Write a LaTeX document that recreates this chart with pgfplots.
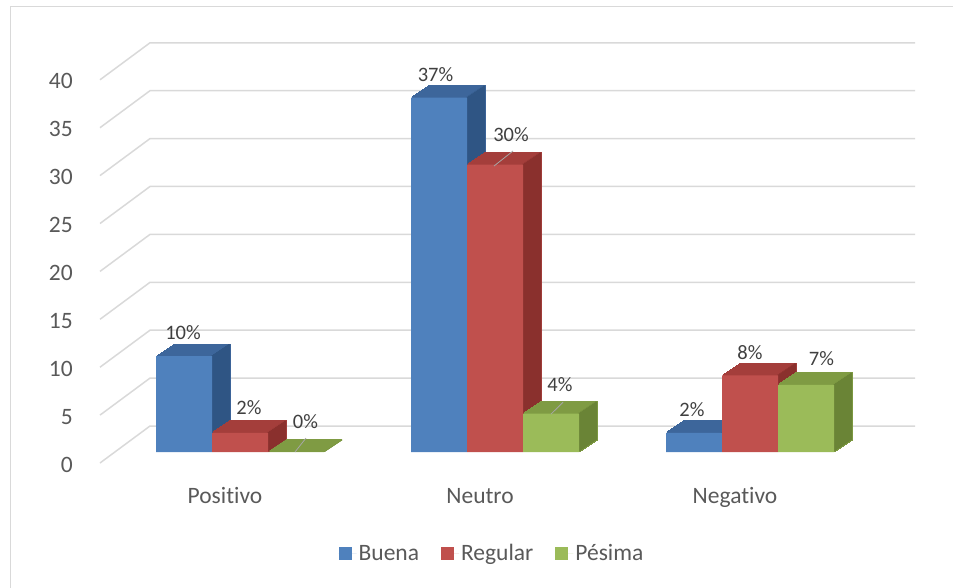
\documentclass[border=0pt]{standalone}
\usepackage{fontspec}
\setmainfont{Carlito}[Ligatures=NoCommon]
\usepackage{pgfplots}
\pgfplotsset{compat=1.18}
\usepackage{pgfplotstable}

\definecolor{bfront}{HTML}{4F81BD}
\definecolor{btop}{HTML}{3D669B}
\definecolor{bside}{HTML}{2F5584}
\definecolor{rfront}{HTML}{C0504D}
\definecolor{rtop}{HTML}{A43E3B}
\definecolor{rside}{HTML}{8A302D}
\definecolor{gfront}{HTML}{9BBB59}
\definecolor{gtop}{HTML}{7F9B43}
\definecolor{gside}{HTML}{6A8436}
\definecolor{txt}{HTML}{595959}
\definecolor{lbltxt}{HTML}{404040}
\definecolor{gridc}{HTML}{D9D9D9}

% dx, dy: label offsets in px from the group centre / bar top
\pgfplotstableread{
x y dx dy
0 10 -57 23.5
1 37 -59.5 23
2 2 -58 23
}\buena
\pgfplotstableread{
x y dx dy
0 2 9 25.5
1 30 16 30.5
2 8 0 23
}\regular
\pgfplotstableread{
x y dx dy
0 0 65.5 30.5
1 4 65 29
2 7 71.5 26.5
}\pesima

\pgfplotsset{
  lbl/.style={
    visualization depends on={\thisrow{dx} \as \ldx},
    visualization depends on={\thisrow{dy} \as \ldy},
    nodes near coords={\pgfmathprintnumber{\pgfplotspointmeta}\%},
    every node near coord/.append style={anchor=center, xshift=\ldx pt, yshift=\ldy pt,
      font=\fontsize{20.5}{24}\selectfont, text=lbltxt, inner sep=0pt},
  },
}

\begin{document}
\begin{tikzpicture}
\useasboundingbox (0,0) rectangle (953pt,587pt);
\draw[gridc, line width=1pt] (10pt,-10pt) -- (10pt,580pt) -- (970pt,580pt);
\begin{axis}[
  at={(100pt,124pt)}, anchor=south west,
  scale only axis, width=815pt, height=420pt,
  xmin=-0.549, xmax=2.647, ymin=-1.148, ymax=42.693,
  clip=false,
  axis line style={draw=none},
  major tick length=0pt,
  xtick={0,1,2},
  xticklabels={Positivo,Neutro,Negativo},
  ytick={0,5,...,40},
  /pgf/number format/assume math mode=true,
  tick label style={text=txt, font=\fontsize{23.5}{28}\selectfont},
  xticklabel style={anchor=base, inner sep=0pt, yshift=-40pt, xshift=-15pt},
  yticklabel style={anchor=base east, inner sep=0pt, xshift=-27pt, yshift=-20pt},
  legend columns=3,
  legend style={draw=none, fill=none, at={(0.481,-0.215)}, anchor=center,
    font=\fontsize{23.5}{28}\selectfont, text=txt,
    /tikz/every even column/.append style={column sep=20pt}},
]
% grid lines (front floor diagonal + back wall)
\pgfplotsinvokeforeach{0,5,...,40}{
  \draw[gridc, line width=1.5pt] ([yshift=-11pt]axis cs:-0.549,#1) -- ([yshift=26pt]axis cs:-0.3529,#1) -- ([yshift=26pt]axis cs:2.647,#1);
}
% ---------- Buena ----------
\pgfplotsinvokeforeach{1,...,12}{
  \addplot[forget plot, ybar, bar width=0.2196, bar shift=-0.2196, fill=btop, draw=btop, line width=1.2pt,
    xshift=#1*1.5pt, yshift=#1*1pt] table[x=x,y=y] {\buena};
}
\pgfplotsinvokeforeach{1,...,12}{
  \addplot[forget plot, ybar, bar width=0.00784, bar shift=-0.1137, fill=bside, draw=none,
    xshift=#1*1.5pt, yshift=#1*1pt] table[x=x,y=y] {\buena};
}
\addplot[ybar, bar width=0.2196, bar shift=-0.2196, fill=bfront, draw=none, lbl,
  legend image code/.code={\fill[bfront] (0pt,-6.5pt) rectangle (13pt,6.5pt); \path (0pt,0pt) -- (18pt,0pt);}] table[x=x,y=y] {\buena};
\addlegendentry{Buena}
% ---------- Regular ----------
\pgfplotsinvokeforeach{1,...,12}{
  \addplot[forget plot, ybar, bar width=0.2196, bar shift=0, fill=rtop, draw=rtop, line width=1.2pt,
    xshift=#1*1.5pt, yshift=#1*1pt] table[x=x,y=y] {\regular};
}
\pgfplotsinvokeforeach{1,...,12}{
  \addplot[forget plot, ybar, bar width=0.00784, bar shift=0.1059, fill=rside, draw=none,
    xshift=#1*1.5pt, yshift=#1*1pt] table[x=x,y=y] {\regular};
}
\addplot[ybar, bar width=0.2196, bar shift=0, fill=rfront, draw=none, lbl,
  legend image code/.code={\fill[rfront] (0pt,-6.5pt) rectangle (13pt,6.5pt); \path (0pt,0pt) -- (18pt,0pt);}] table[x=x,y=y] {\regular};
\addlegendentry{Regular}
% ---------- Pésima ----------
\pgfplotsinvokeforeach{1,...,12}{
  \addplot[forget plot, ybar, bar width=0.2196, bar shift=0.2196, fill=gtop, draw=gtop, line width=1.2pt,
    xshift=#1*1.5pt, yshift=#1*1pt] table[x=x,y=y] {\pesima};
}
\pgfplotsinvokeforeach{1,...,12}{
  \addplot[forget plot, ybar, bar width=0.00784, bar shift=0.3255, fill=gside, draw=none,
    xshift=#1*1.5pt, yshift=#1*1pt] table[x=x,y=y] {\pesima};
}
\addplot[ybar, bar width=0.2196, bar shift=0.2196, fill=gfront, draw=none, lbl,
  legend image code/.code={\fill[gfront] (0pt,-6.5pt) rectangle (13pt,6.5pt); \path (0pt,0pt) -- (18pt,0pt);}] table[x=x,y=y] {\pesima};
\addlegendentry{Pésima}
% leader lines of displaced labels
\draw[gray!70, line width=0.8pt] (axis cs:0.996,29.85) -- (axis cs:1.0706,31.42);
\draw[gray!70, line width=0.8pt] (axis cs:0.2157,0) -- (axis cs:0.2588,1.46);
\draw[gray!70, line width=0.8pt] (axis cs:1.2196,3.95) -- (axis cs:1.2667,5.2);
\end{axis}
\end{tikzpicture}
\end{document}
